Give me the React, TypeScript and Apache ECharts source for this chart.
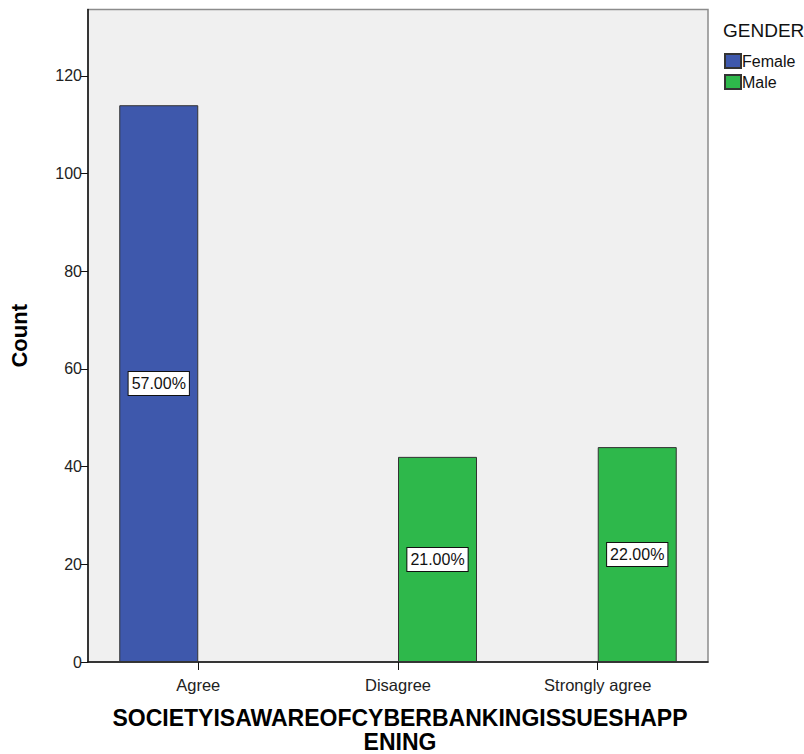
import React, { useEffect, useRef } from "react";
import * as echarts from "echarts";

const categories = ["Agree", "Disagree", "Strongly agree"];
const femaleCounts = [114, null, null];
const maleCounts = [null, 42, 44];
const femalePct = ["57.00%", "", ""];
const malePct = ["", "21.00%", "22.00%"];
const yTicks = [0, 20, 40, 60, 80, 100, 120];
const yMax = 133.6;
const xMin = -0.552;
const xMax = 2.552;
const legendTitle = "GENDER";
const xTitle = "SOCIETYISAWAREOFCYBERBANKINGISSUESHAPP\nENING";
const yTitle = "Count";

const FONT = "Liberation Sans, Arial, sans-serif";

export default function App() {
  const ref = useRef<HTMLDivElement>(null);
  useEffect(() => {
    if (!ref.current) return;
    const chart = echarts.init(ref.current, null, { renderer: "svg" });
    const toPairs = (arr: (number | null)[]) =>
      arr.map((v, i) => (v == null ? null : [i, v])).filter((d) => d !== null);
    const labelStyle = (arr: string[]) => ({
      show: true,
      position: "inside",
      formatter: (p: any) => arr[p.value[0]] || "",
      color: "#111",
      fontFamily: FONT,
      fontSize: 16,
      backgroundColor: "#fff",
      borderColor: "#111",
      borderWidth: 1,
      padding: [4, 3, 3, 3],
    });
    const catIdx = categories.map((_, i) => i);
    chart.setOption({
      animation: false,
      textStyle: { fontFamily: FONT },
      grid: {
        left: 84,
        right: 96,
        top: 9.5,
        bottom: 92,
        containLabel: false,
        show: true,
        backgroundColor: "#f0f0f0",
        borderColor: "#8c8c8c",
        borderWidth: 1.5,
      },
      graphic: [
        {
          type: "text",
          z: 10,
          x: 400,
          y: 706,
          style: {
            text: xTitle,
            fill: "#000",
            font: "bold 23px " + FONT,
            textAlign: "center",
            textVerticalAlign: "top",
            lineHeight: 24,
          },
        },
        {
          type: "text",
          z: 10,
          x: 723,
          y: 30,
          style: {
            text: legendTitle,
            fill: "#111",
            font: "19px " + FONT,
            textAlign: "left",
            textVerticalAlign: "middle",
          },
        },
      ],
      legend: {
        orient: "vertical",
        left: 724,
        top: 53,
        padding: 0,
        itemWidth: 16,
        itemHeight: 14,
        itemGap: 5,
        icon: "rect",
        textStyle: { fontFamily: FONT, fontSize: 16, color: "#111", padding: [0, 0, 0, -4] },
        data: ["Female", "Male"],
      },
      xAxis: {
        type: "value",
        min: xMin,
        max: xMax,
        axisLine: { show: true, onZero: false, lineStyle: { color: "#111", width: 1.5 } },
        axisTick: { show: true, length: 8, lineStyle: { color: "#111" }, customValues: catIdx },
        axisLabel: {
          color: "#222",
          fontSize: 16.5,
          fontFamily: FONT,
          margin: 14,
          customValues: catIdx,
          formatter: (v: number) => categories[Math.round(v)] ?? "",
        },
        splitLine: { show: false },
      },
      yAxis: {
        type: "value",
        min: 0,
        max: yMax,
        interval: 20,
        name: yTitle,
        nameLocation: "middle",
        nameGap: 58,
        nameTextStyle: { fontSize: 22, fontWeight: "bold", color: "#000", fontFamily: FONT },
        axisLine: { show: true, onZero: false, lineStyle: { color: "#111", width: 1.5 } },
        axisTick: { show: true, length: 7, lineStyle: { color: "#111" }, customValues: yTicks },
        axisLabel: { color: "#222", fontSize: 16, fontFamily: FONT, margin: 6, customValues: yTicks },
        splitLine: { show: false },
      },
      series: [
        {
          name: "Female",
          type: "bar",
          data: toPairs(femaleCounts),
          barWidth: 79,
          barGap: "0%",
          itemStyle: { color: "#3e58ac", borderColor: "#333", borderWidth: 1 },
          label: labelStyle(femalePct),
        },
        {
          name: "Male",
          type: "bar",
          data: toPairs(maleCounts),
          barWidth: 79,
          barGap: "0%",
          itemStyle: { color: "#2eb84b", borderColor: "#333", borderWidth: 1 },
          label: labelStyle(malePct),
        },
      ],
    });
    return () => chart.dispose();
  }, []);
  return (
    <div
      ref={ref}
      style={{ position: "absolute", left: 0, top: 0, width: 804, height: 754, background: "#fff" }}
    />
  );
}
